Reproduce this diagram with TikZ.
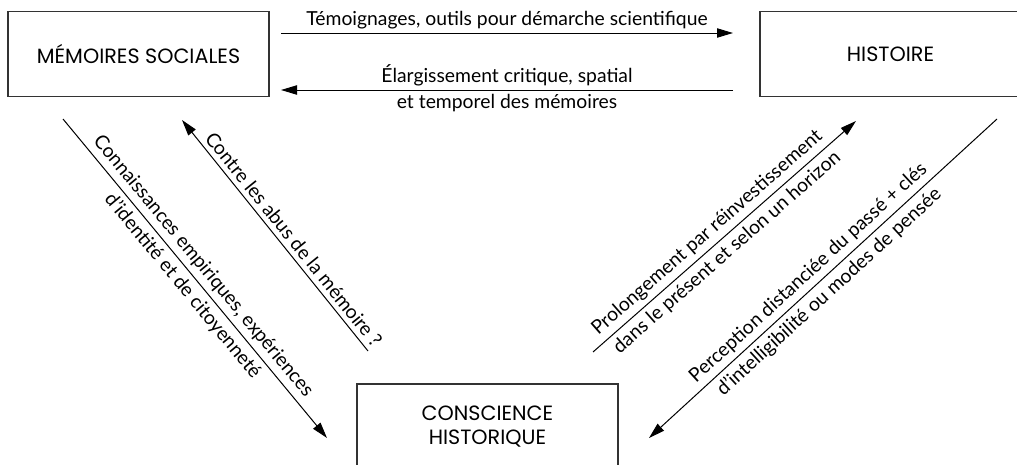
\documentclass[tikz,border=0pt]{standalone}
\usepackage{fontspec}
\setmainfont{Lato}
\newfontfamily\boxfont{Poppins}
\usetikzlibrary{arrows.meta}
\tikzset{
  conceptbox/.style={draw=black!80, line width=0.9pt, minimum width={261*0.75pt}, minimum height={85*0.75pt}, inner sep=0pt, align=center, font=\boxfont\fontsize{15.5}{17.5}\selectfont},
  flow/.style={line width=0.75pt, -{Triangle[length=12pt,width=7pt]}},
  lbl/.style={font=\fontsize{14.5}{17}\selectfont, inner sep=3.5pt}
}
\begin{document}
\begin{tikzpicture}[x=0.75pt,y=-0.75pt]
\clip (0,0) rectangle (1017,464);
\fill[white] (0,0) rectangle (1017,464);
\node[conceptbox] (mem) at (138.5,54) {MÉMOIRES SOCIALES};
\node[conceptbox] (his) at (890.5,54) {HISTOIRE};
\node[conceptbox] (con) at (487.5,426.5) {CONSCIENCE\\HISTORIQUE};
% endpoints
\coordinate (t1) at (281,33); \coordinate (t2) at (733,33);
\coordinate (e1) at (733,90); \coordinate (e2) at (281,90);
\coordinate (c1) at (63,119); \coordinate (c2) at (327,438);
\coordinate (a1) at (368,351); \coordinate (a2) at (182,120);
\coordinate (p1) at (593,352); \coordinate (p2) at (856,121);
\coordinate (q1) at (997,119); \coordinate (q2) at (649,438);
\draw[flow] (t1) -- node[lbl, above, inner sep=2.5pt] {Témoignages, outils pour démarche scientifique} (t2);
\draw[flow] (e1) -- node[lbl, above, inner sep=2.5pt] {Élargissement critique, spatial}
                    node[lbl, below, inner sep=2.5pt] {et temporel des mémoires} (e2);
\draw[flow] (c1) -- node[lbl, above, sloped, pos=0.49] {Connaissances empiriques, expériences}
                    node[lbl, below, sloped, pos=0.495] {d’identité et de citoyenneté} (c2);
\draw[flow] (a1) -- node[lbl, above, sloped, pos=0.45] {Contre les abus de la mémoire ?} (a2);
\draw[flow] (p1) -- node[lbl, above, sloped, pos=0.47] {Prolongement par réinvestissement}
                    node[lbl, below, sloped, pos=0.475] {dans le présent et selon un horizon} (p2);
\draw[flow] (q1) -- node[lbl, above, sloped, pos=0.515] {Perception distanciée du passé + clés}
                    node[lbl, below, sloped, pos=0.51] {d’intelligibilité ou modes de pensée} (q2);
\end{tikzpicture}
\end{document}
